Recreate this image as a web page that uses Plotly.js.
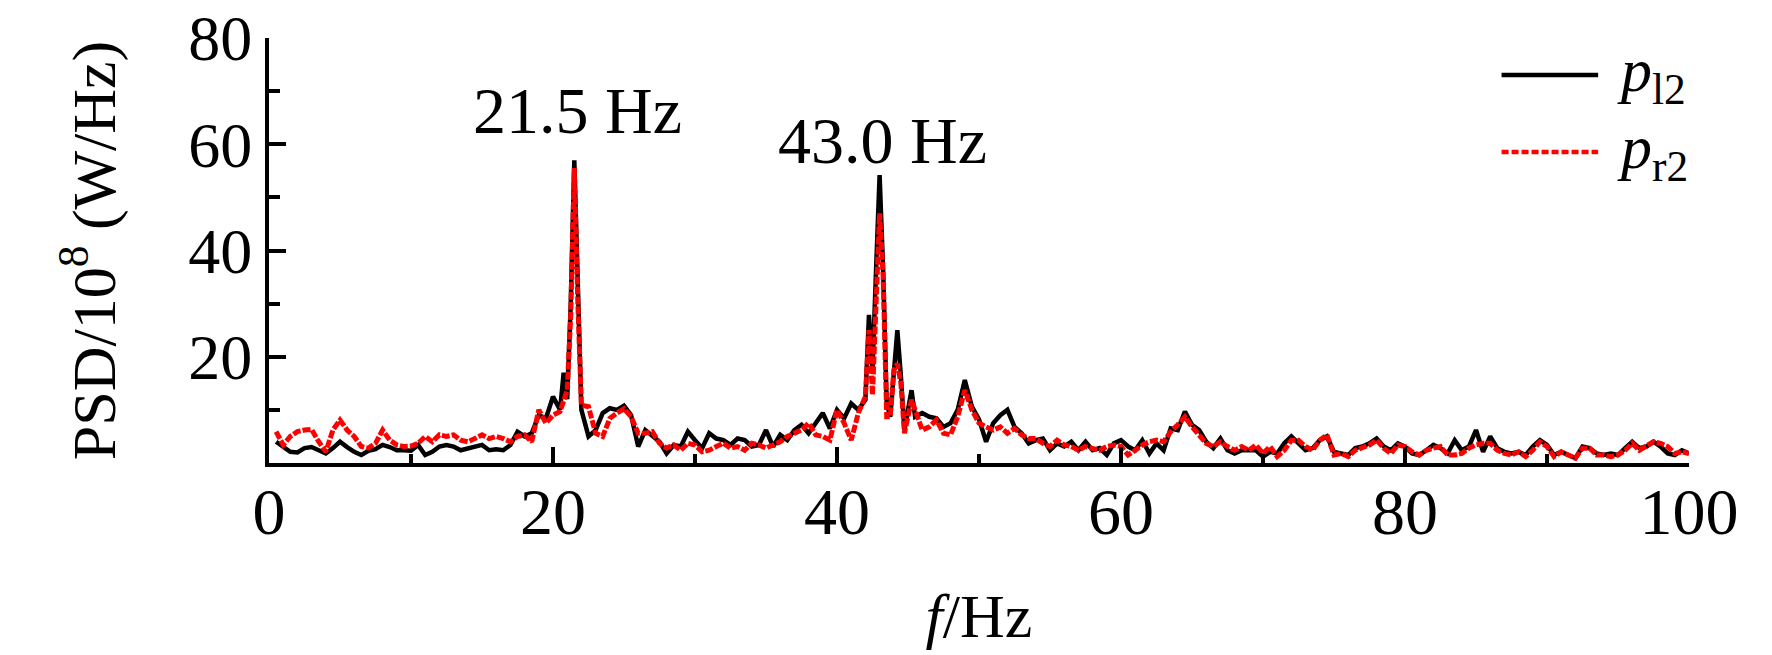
<!DOCTYPE html>
<html>
<head>
<meta charset="utf-8">
<script src="https://cdn.plot.ly/plotly-3.0.1.min.js"></script>
<style>
  html, body { margin: 0; padding: 0; background: #fff; }
  #psd { width: 1772px; height: 655px; }
</style>
</head>
<body>
<div id="psd"></div>
<script>
/* frequency grid (Hz), finer around the two peaks */
var freq = [
  0.5,1,1.5,2,2.5,3,3.5,4,4.5,5,
  5.5,6,6.5,7,7.5,8,8.5,9,9.5,10,
  10.5,11,11.5,12,12.5,13,13.5,14,14.5,15,
  15.5,16,16.5,17,17.5,18,18.5,19,19.5,20,
  20.5,20.75,21,21.25,21.5,21.75,22,22.5,23,23.5,
  24,24.5,25,25.5,26,26.5,27,27.5,28,28.5,
  29,29.5,30,30.5,31,31.5,32,32.5,33,33.5,
  34,34.5,35,35.5,36,36.5,37,37.5,38,38.5,
  39,39.5,40,40.5,41,41.5,42,42.25,42.5,42.75,
  43,43.25,43.5,43.75,44,44.25,44.5,44.75,45,45.25,
  45.5,46,46.5,47,47.5,48,48.5,49,49.5,50,
  50.5,51,51.5,52,52.5,53,53.5,54,54.5,55,
  55.5,56,56.5,57,57.5,58,58.5,59,59.5,60,
  60.5,61,61.5,62,62.5,63,63.5,64,64.5,65,
  65.5,66,66.5,67,67.5,68,68.5,69,69.5,70,
  70.5,71,71.5,72,72.5,73,73.5,74,74.5,75,
  75.5,76,76.5,77,77.5,78,78.5,79,79.5,80,
  80.5,81,81.5,82,82.5,83,83.5,84,84.5,85,
  85.5,86,86.5,87,87.5,88,88.5,89,89.5,90,
  90.5,91,91.5,92,92.5,93,93.5,94,94.5,95,
  95.5,96,96.5,97,97.5,98,98.5,99,99.5,100
];

/* p_l2, PSD / 1e8 (W/Hz) */
var pl2 = [
  4.0,3.0,2.1,2.0,2.8,3.0,2.4,1.8,2.8,4.0,
  3.0,2.1,1.5,2.3,2.6,3.4,3.0,2.4,2.4,2.3,
  3.4,1.5,2.1,3.1,3.4,3.1,2.4,2.8,3.0,3.4,
  2.4,2.6,2.4,3.4,5.9,5.0,5.6,9.0,8.4,12.5,
  10.0,17,12,30,57,30,10,5.0,6.2,9.4,
  10.3,10.0,10.8,9.0,3.1,6.2,5.0,4.0,1.8,3.4,
  3.1,5.9,4.3,2.8,5.6,4.6,4.3,3.4,4.6,4.3,
  3.1,3.4,6.2,3.1,5.3,4.3,6.2,7.2,5.6,7.5,
  9.4,6.5,10,8.4,11.2,10,11.9,27.9,17.5,36.3,
  54.2,36.3,11.2,8.7,18.1,25.0,16.3,6.2,10,13.7,
  8.7,9.4,8.7,8.4,6.8,7.5,10,15.6,10.6,8.2,
  4.0,7.5,9.0,10,6.8,5.6,3.7,4.3,4.6,2.4,
  3.7,3.1,4.0,2.4,4.0,2.4,2.8,1.5,3.7,4.3,
  3.1,2.4,4.3,1.8,3.7,2.4,6.5,6.2,9.7,7.2,
  6.2,4.0,2.8,4.6,2.4,1.8,2.4,2.4,2.4,1.2,
  2.1,1.8,3.7,5.0,3.7,2.4,2.8,4.3,5.0,2.1,
  1.8,1.5,2.8,3.1,3.7,4.6,3.1,2.4,3.7,3.1,
  1.8,1.5,2.4,3.4,2.8,1.8,4.3,2.4,3.1,6.2,
  2.1,5.0,2.8,2.1,1.8,2.1,1.5,3.1,4.3,3.4,
  1.5,2.1,1.5,0.9,3.1,2.8,1.8,1.5,1.8,1.5,
  2.8,4.0,2.8,3.1,4.0,3.1,1.8,1.5,2.4,1.8
];

/* p_r2, PSD / 1e8 (W/Hz) */
var pr2 = [
  5.9,3.4,5.0,5.9,6.2,6.3,4.0,2.1,6.2,8.1,
  6.2,5.0,3.1,2.8,3.7,6.2,4.3,3.4,3.1,3.2,
  3.7,5.0,4.0,5.3,5.0,5.3,4.3,4.0,4.6,5.3,
  4.6,5.0,4.6,4.0,5.0,5.3,4.0,10.0,7.5,9.0,
  9.7,12,13.7,28,55.5,30,10.9,10.6,5.6,5.0,
  8.4,9.4,10.2,8.7,5.6,5.6,5.9,3.7,2.8,3.4,
  2.4,3.7,3.4,2.1,2.4,3.1,3.7,2.8,3.1,2.4,
  3.7,3.4,2.8,3.4,4.0,5.0,5.6,6.2,7.5,5.3,
  5.0,4.3,10,7.5,4.3,9.4,12.5,25.0,12.8,33.2,
  47.0,35.1,8.7,8.7,17.5,18.7,15.0,5.6,8.7,11.9,
  10,6.2,6.8,8.1,5.6,5.3,8.7,13.7,10,7.5,
  6.8,6.2,6.8,5.6,6.5,5.3,4.6,4.6,3.7,3.1,
  4.3,3.4,3.1,2.4,3.1,2.8,2.4,3.1,3.4,3.1,
  1.5,2.4,3.4,4.0,4.3,4.0,5.9,7.2,8.7,6.8,
  5.3,3.7,3.1,4.0,3.1,2.4,3.1,2.4,3.4,1.8,
  3.1,1.2,2.4,4.3,4.3,3.1,2.4,4.3,5.3,1.5,
  1.8,1.2,2.4,2.8,3.4,4.3,2.8,1.8,3.4,3.1,
  2.1,1.5,2.4,2.8,3.1,1.5,1.5,1.8,2.8,3.4,
  3.7,3.7,2.4,1.8,1.5,2.1,1.2,2.4,4.0,3.1,
  1.2,2.1,1.5,0.9,2.8,2.8,1.5,1.5,1.2,1.5,
  2.4,3.7,2.4,3.1,4.0,3.7,3.1,1.8,2.1,1.8
];

var xTicks = [0, 20, 40, 60, 80, 100];
var xMinor = [10, 30, 50, 70, 90];
var yTicks = [20, 40, 60, 80];
var yMinor = [10, 30, 50, 70];

var peakLabels = ['21.5 Hz', '43.0 Hz'];
var peakX = [21.7, 43.2];
var peakY = [66.3, 60.8];

var seriesNames = ['<i>p</i><sub>l2</sub>', '<i>p</i><sub>r2</sub>'];

var serif = 'Liberation Serif, Times New Roman, serif';

var trace1 = {
  x: freq,
  y: pl2,
  name: seriesNames[0],
  type: 'scatter',
  mode: 'lines',
  line: {color: '#000000', width: 4.5}
};

var trace2 = {
  x: freq,
  y: pr2,
  name: seriesNames[1],
  type: 'scatter',
  mode: 'lines',
  line: {color: '#ff0000', width: 5, dash: '8px,2px'}
};

var notes = [];
for (var i = 0; i < peakLabels.length; i++) {
  notes.push({
    x: peakX[i], y: peakY[i], xref: 'x', yref: 'y',
    text: peakLabels[i], showarrow: false,
    xanchor: 'center', yanchor: 'middle',
    font: {family: serif, size: 66, color: '#000'}
  });
}

/* hand-drawn legend, long line samples like the original */
var legY = [0.913, 0.732];
var legDash = ['solid', '7px,3px'];
var legColor = ['#000000', '#ff0000'];
var shapes = [];
for (var k = 0; k < 2; k++) {
  shapes.push({
    type: 'line', xref: 'paper', yref: 'paper',
    x0: 0.868, x1: 0.936, y0: legY[k], y1: legY[k],
    line: {color: legColor[k], width: 4.5, dash: legDash[k]}
  });
  notes.push({
    x: 0.948, y: legY[k], xref: 'paper', yref: 'paper',
    text: seriesNames[k], showarrow: false,
    xanchor: 'left', yanchor: 'middle',
    font: {family: serif, size: 62, color: '#000'}
  });
}

var layout = {
  width: 1772,
  height: 655,
  margin: {l: 269, r: 83, t: 38, b: 192},
  paper_bgcolor: '#ffffff',
  plot_bgcolor: '#ffffff',
  showlegend: false,
  font: {family: serif, size: 64, color: '#000'},
  xaxis: {
    range: [0, 100],
    tickmode: 'array',
    tickvals: xTicks,
    ticks: 'inside', ticklen: 16, tickwidth: 4, tickcolor: '#000',
    minor: {tickmode: 'array', tickvals: xMinor, ticks: 'inside', ticklen: 9, tickwidth: 4, tickcolor: '#000'},
    showline: true, linewidth: 4, linecolor: '#000',
    showgrid: false, zeroline: false,
    tickfont: {family: serif, size: 66},
    ticklabelstandoff: -12,
    title: {text: '<i>f</i>/Hz', standoff: 47, font: {family: serif, size: 62}}
  },
  yaxis: {
    range: [0, 80],
    tickmode: 'array',
    tickvals: yTicks,
    ticks: 'inside', ticklen: 17, tickwidth: 4, tickcolor: '#000',
    minor: {tickmode: 'array', tickvals: yMinor, ticks: 'inside', ticklen: 11, tickwidth: 4, tickcolor: '#000'},
    showline: true, linewidth: 4, linecolor: '#000',
    showgrid: false, zeroline: false,
    tickfont: {family: serif, size: 64},
    title: {text: 'PSD/10<sup>8</sup> (W/Hz)', standoff: 54, font: {family: serif, size: 62}}
  },
  annotations: notes,
  shapes: shapes
};

Plotly.newPlot('psd', [trace1, trace2], layout, {displayModeBar: false, staticPlot: true});
</script>
</body>
</html>
